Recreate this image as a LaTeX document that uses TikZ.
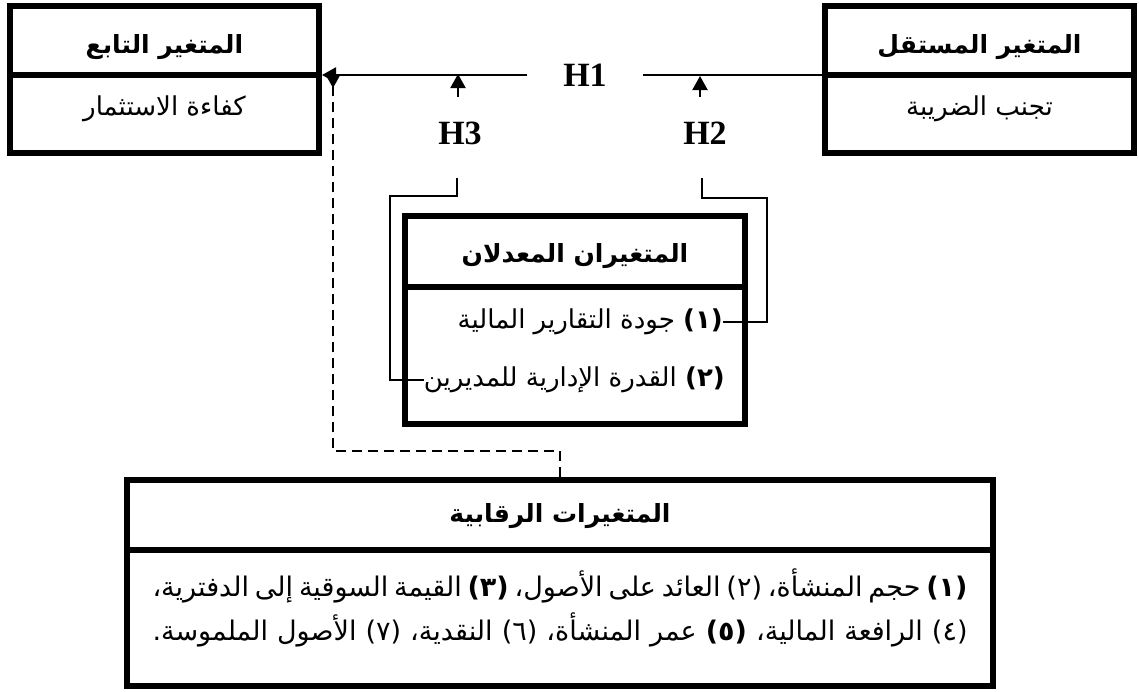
\documentclass[tikz,border=0pt]{standalone}
\usepackage{fontspec}
\setmainfont{Liberation Serif}
\newfontfamily\arabicfont[Script=Arabic]{DejaVu Sans}
\TeXXeTstate=1
\usetikzlibrary{arrows.meta}
\newcommand\myAR[1]{{\arabicfont\beginR #1\endR}}
\begin{document}
\begin{tikzpicture}[x=1pt,y=-1pt,
  varbox/.style={draw, line width=6pt, inner sep=0pt},
  divline/.style={line width=6pt},
  ttl/.style={inner sep=0pt, font=\fontsize{25}{29}\selectfont\bfseries},
  txt/.style={inner sep=0pt, font=\fontsize{26}{30}\selectfont},
  btxt/.style={inner sep=0pt, font=\fontsize{27}{31}\selectfont},
  hyp/.style={inner sep=0pt, font=\fontsize{34}{38}\selectfont\bfseries},
  conn/.style={line width=2pt},
  tip/.style={-{Triangle[length=14pt,width=15pt]}},
  bracket/.style={line width=1.2pt},
  dashconn/.style={line width=2.2pt, dash pattern=on 10pt off 6pt}]
\useasboundingbox (0,0) rectangle (1139,691);
% boxes
\node[varbox, minimum width=309pt, minimum height=147pt] (L) at (164.5,79.5) {};
\node[varbox, minimum width=309pt, minimum height=147pt] (R) at (979.5,79.5) {};
\node[varbox, minimum width=340pt, minimum height=208pt] (M) at (575,320) {};
\node[varbox, minimum width=866pt, minimum height=206pt] (B) at (560,583) {};
\draw[divline] (10,75) -- (319,75);
\draw[divline] (825,75) -- (1134,75);
\draw[divline] (405,287) -- (745,287);
\draw[divline] (127,550) -- (993,550);
% texts
\node[ttl] (Lt) at (164.5,47) {\myAR{المتغير التابع}};
\node[txt] (Lc) at (164.5,109) {\myAR{كفاءة الاستثمار}};
\node[ttl] (Rt) at (979.5,47) {\myAR{المتغير المستقل}};
\node[txt] (Rc) at (979.5,109) {\myAR{تجنب الضريبة}};
\node[ttl] (Mt) at (575,256) {\myAR{المتغيران المعدلان}};
\node[txt, anchor=east] (M1) at (723,322) {\myAR{{\bfseries (١)} جودة التقارير المالية}};
\node[txt, anchor=east] (M2) at (725,380) {\myAR{{\bfseries (٢)} القدرة الإدارية للمديرين}};
\node[ttl] (Bt) at (560,516) {\myAR{المتغيرات الرقابية}};
\node[btxt] (B1) at (560,586) {\hbox to 815pt{\arabicfont\beginR{\bfseries (١)} حجم المنشأة، (٢) العائد على الأصول، {\bfseries (٣)} القيمة السوقية إلى الدفترية،\endR}};
\node[btxt] (B2) at (560,630) {\hbox to 815pt{\arabicfont\beginR (٤) الرافعة المالية، {\bfseries (٥)} عمر المنشأة، (٦) النقدية، (٧) الأصول الملموسة.\endR}};
% hypotheses
\node[hyp, minimum width=115pt] (H1) at (585,75) {H1};
\node[hyp] (H3) at (460,133) {H3};
\node[hyp] (H2) at (705,133) {H2};
% main connector
\draw[conn] (R.west |- H1) -- (H1.east);
\draw[conn, tip] (H1.west) -- (L.east |- H1);
% moderator arrows
\coordinate (a3s) at (458,97);
\coordinate (a3e) at (458,74);
\coordinate (a2s) at (700,97);
\coordinate (a2e) at (700,76);
\draw[conn, tip] (a3s) -- (a3e);
\draw[conn, tip] (a2s) -- (a2e);
% brackets
\coordinate (b3) at (457,178);
\coordinate (b3c) at (390,196);
\coordinate (b2) at (702,178);
\coordinate (b2c) at (767,198);
\draw[bracket] (b3) |- (b3c) |- (M2.west);
\draw[bracket] (b2) |- (b2c) |- (M1.east);
% control variables (dashed)
\coordinate (dc) at (333,451);
\coordinate (dt) at (333,88);
\draw[dashconn] (B.north) |- (dc) -- ([yshift=14pt]dt);
\draw[conn, tip] ([yshift=15pt]dt) -- (dt);
\end{tikzpicture}
\end{document}
